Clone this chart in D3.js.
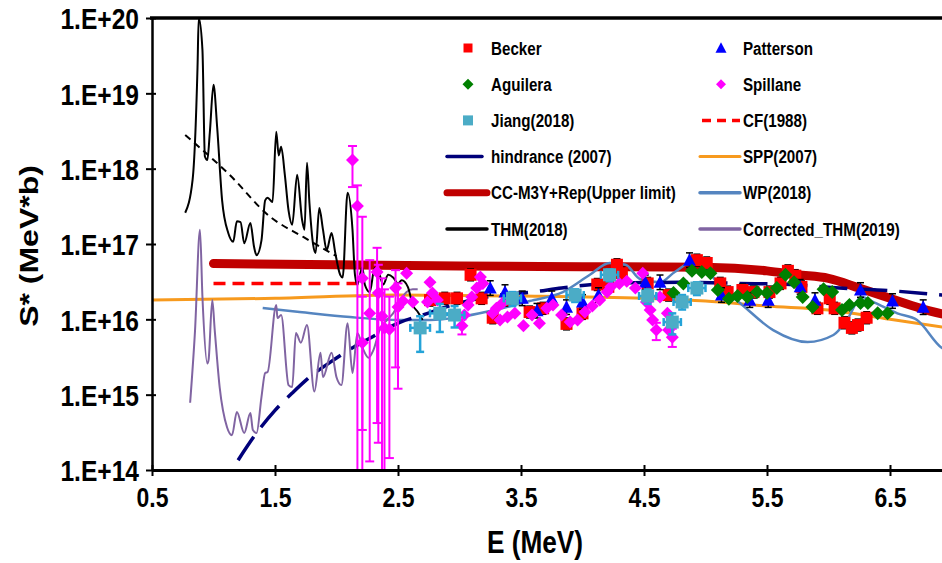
<!DOCTYPE html>
<html><head><meta charset="utf-8">
<script src="https://cdn.jsdelivr.net/npm/d3@7"></script>
<style>
body{margin:0;background:#fff}
svg{display:block}
text{font-family:"Liberation Sans",Arial,sans-serif;font-weight:bold;fill:#000}
</style>
</head><body>
<svg id="c" width="942" height="563"></svg>
<script>
// ---------- tick labels ----------
const yTickValues = [1e14,1e15,1e16,1e17,1e18,1e19,1e20];
const yTickLabels = ["1.E+14","1.E+15","1.E+16","1.E+17","1.E+18","1.E+19","1.E+20"];
const xTickValues = [0.5,1.5,2.5,3.5,4.5,5.5,6.5];
const xTickLabels = ["0.5","1.5","2.5","3.5","4.5","5.5","6.5"];
const xTitle = "E (MeV)";
const yTitle = "S* (MeV*b)";

// ---------- experimental data ----------
const beckerE = [2.76,2.88,2.98,3.09,3.18,3.27,3.39,3.57,3.68,3.87,4.00,4.12,4.21,4.28,4.32,4.53,4.70,4.93,5.01,5.12,5.18,5.30,5.39,5.52,5.61,5.67,5.73,5.78,5.91,6.01,6.05,6.13,6.19,6.24,6.31];
const beckerS = [1.8e16,1.9e16,1.9e16,3.9e16,1.9e16,1.05e16,1.8e16,1.25e16,1.4e16,8.7e15,1.2e16,2.9e16,2.7e16,5.3e16,4.1e16,3.0e16,2.1e16,6.1e16,5.6e16,3.0e16,2.3e16,2.45e16,2.3e16,2.3e16,3.0e16,4.4e16,3.8e16,2.7e16,1.4e16,1.9e16,1.4e16,9.0e15,7.7e15,8.4e15,1.05e16];

const pattersonE = [3.25,3.37,3.51,3.63,3.75,3.87,4.00,4.13,4.51,4.63,4.87,5.13,5.36,5.51,5.77,5.89,6.26,6.52,6.77];
const pattersonS = [2.6e16,2.3e16,1.9e16,1.3e16,1.9e16,1.45e16,1.7e16,2.1e16,3.1e16,3.1e16,6.1e16,2.1e16,1.8e16,1.8e16,2.7e16,1.8e16,2.45e16,1.75e16,1.45e16];

const aguileraE = [4.74,4.82,4.89,4.97,5.04,5.10,5.19,5.26,5.34,5.42,5.50,5.58,5.65,5.72,5.79,5.87,5.96,6.03,6.11,6.17,6.26,6.32,6.40,6.48];
const aguileraS = [2.24e16,3.0e16,4.4e16,4.25e16,4.1e16,2.45e16,1.87e16,2.04e16,1.98e16,2.3e16,2.24e16,2.6e16,3.9e16,3.1e16,1.98e16,1.46e16,2.5e16,2.3e16,1.33e16,1.55e16,1.65e16,1.65e16,1.2e16,1.2e16];

const spillaneE  = [2.13,2.17,2.21,2.21,2.27,2.33,2.34,2.37,2.39,2.43,2.48,2.50,2.54,2.57,2.62,2.74,2.76,2.78,2.82,3.02,3.04,3.07,3.10,3.14,3.17,3.19,3.27,3.30,3.33,3.35,3.39,3.45,3.52,3.59,3.65,3.71,3.76,3.83,3.90,3.96,4.02,4.08,4.14,4.20,4.23,4.30,4.36,4.43,4.49,4.52,4.55,4.57,4.60,4.63,4.69,4.70,4.73];
const spillaneS  = [1.3e18,3.2e17,3.5e16,4.9e15,1.2e16,4.25e16,2.24e16,1.1e16,7.7e15,7.4e15,2.6e16,1.46e16,1.75e16,4.1e16,1.7e16,1.7e16,3.1e16,2.24e16,1.8e16,8.2e15,1.14e16,1.55e16,1.98e16,2.6e16,3.65e16,3.0e16,1.2e16,1.4e16,9.8e15,1.65e16,1.07e16,1.2e16,8.2e15,1.14e16,8.9e15,1.4e16,1.55e16,1.14e16,9.2e15,9.8e15,1.25e16,1.5e16,1.8e16,2.3e16,2.7e16,3.0e16,3.2e16,2.6e16,4.1e16,1.7e16,1.33e16,9.8e15,7.2e15,1.98e16,1.2e16,7.2e15,5.8e15];
const spillaneLo = [5.7e17,1e13,1e13,3.4e14,1.3e14,4.2e14,2.3e14,1e13,1e13,1.44e14,2.3e15,1.2e15,null,null,null,null,null,null,null,6.3e15,null,null,null,null,null,null,null,null,null,null,null,null,null,null,null,null,null,null,null,null,null,null,null,null,null,null,null,null,null,null,null,null,5.3e15,null,null,null,4.3e15];
const spillaneHi = [2.0e18,6.0e17,2.3e17,2.0e16,6.1e16,8.9e16,5.3e16,3.5e16,2.5e16,2.0e16,4.5e16,3.0e16,null,null,null,null,null,null,null,1.0e16,null,null,null,null,null,null,null,null,null,null,null,null,null,null,null,null,null,null,null,null,null,null,null,null,null,null,null,null,null,null,null,null,9.0e15,null,null,null,7.5e15];

const jiangE  = [2.68,2.84,2.96,3.43,3.94,4.22,4.53,4.73,4.81,4.93];
const jiangS  = [7.7e15,1.2e16,1.14e16,1.9e16,2.1e16,3.9e16,2.04e16,9.2e15,1.7e16,2.6e16];
const jiangLo = [3.7e15,6.8e15,7.8e15,1.5e16,1.7e16,3.2e16,1.6e16,6.3e15,1.35e16,2.1e16];
const jiangHi = [1.1e16,1.6e16,1.5e16,2.3e16,2.5e16,4.6e16,2.5e16,1.2e16,2.1e16,3.1e16];
const jiangDE = [0.08,0.08,0.08,0.07,0.07,0.07,0.07,0.07,0.07,0.07];

const beckerErrFrac = 0.2;
const pattersonErrFrac = 0.25;

// ---------- theory curves ----------
const cfE = [1.0,2.2];
const cfS = [3.0e16,3.0e16];

const sppE = [0.5,1.5,2.5,3.5,4.5,5.0,5.5,6.0,6.5,7.0];
const sppS = [1.8e16,1.9e16,2.1e16,2.04e16,1.9e16,1.75e16,1.5e16,1.33e16,1.0e16,7.6e15];

const ccE = [1.0,2.0,3.0,4.0,5.0,5.5,5.75,6.0,6.25,6.5,6.75,7.0];
const ccS = [5.5e16,5.3e16,5.1e16,5.0e16,4.9e16,4.4e16,3.9e16,3.5e16,2.6e16,1.9e16,1.4e16,1.1e16];

const wpE = [1.40,1.70,2.11,2.52,2.76,3.00,3.25,3.57,3.84,4.06,4.22,4.35,4.47,4.63,4.75,4.90,5.00,5.12,5.28,5.55,5.83,6.04,6.15,6.27,6.38,6.56,6.72,6.92,7.0];
const wpS = [1.41e16,1.25e16,1.07e16,9.8e15,9.8e15,1.07e16,1.29e16,1.75e16,2.3e16,3.9e16,5.6e16,5.3e16,3.4e16,3.1e16,4.25e16,5.8e16,4.8e16,2.7e16,1.65e16,7.2e15,5.0e15,6.2e15,9.8e15,1.98e16,1.65e16,1.2e16,9.8e15,4.2e15,3.6e15];

const hindE = [1.20,1.35,1.50,1.64,1.78,1.95,2.11,2.27,2.52,2.70,3.00,3.33,3.59,3.83,4.22,4.79,5.28,5.69,6.09,6.50,6.92,7.0];
const hindS = [1.35e14,3.1e14,6.2e14,1.05e15,1.7e15,2.7e15,4.0e15,5.6e15,9.2e15,1.14e16,1.65e16,2.1e16,2.3e16,2.6e16,3.0e16,3.1e16,3.0e16,2.9e16,2.6e16,2.4e16,2.1e16,2.05e16];

const thmE = [0.77,0.83,0.87,0.88,0.91,0.93,0.95,0.97,1.00,1.03,1.07,1.12,1.16,1.19,1.22,1.25,1.30,1.33,1.35,1.39,1.42,1.44,1.48,1.51,1.53,1.55,1.58,1.61,1.64,1.68,1.72,1.74,1.76,1.78,1.81,1.83,1.86,1.89,1.92,1.96,1.99,2.03,2.05,2.09,2.13,2.15,2.17,2.21,2.23,2.27,2.31,2.35,2.38,2.42,2.46,2.50,2.53,2.58,2.62,2.66,2.70];
const thmS = [2.6e17,7.1e17,2.2e19,1.0e20,3.8e19,1.45e18,1.3e18,3.0e18,1.3e19,3.5e18,3.8e17,1.4e17,1.07e17,2.0e17,1.95e17,1.02e17,1.9e17,9.1e16,7.1e16,1.12e17,3.8e17,4.1e17,3.6e17,3.1e18,1.5e18,1.95e18,8.3e17,2.8e17,1.8e17,8.3e17,2.1e17,1.55e17,1.2e18,3.5e17,9.8e16,7.6e16,3.0e17,1.55e17,8.3e16,1.4e17,7.6e16,3.9e16,3.6e16,4.8e17,1.55e17,3.9e16,2.9e16,4.9e16,2.9e16,2.3e16,4.8e16,3.9e16,2.9e16,3.9e16,3.6e16,3.0e16,3.3e16,2.7e16,1.55e16,1.26e16,9.8e15];

const cthmE = [0.81,0.85,0.89,0.91,0.95,0.96,0.99,1.01,1.05,1.11,1.15,1.19,1.25,1.30,1.32,1.35,1.39,1.42,1.44,1.51,1.52,1.55,1.61,1.64,1.67,1.71,1.76,1.82,1.87,1.89,1.96,2.00,2.04,2.09,2.13,2.17,2.22,2.26,2.30,2.35,2.41,2.46,2.52,2.57,2.62,2.66];
const cthmS = [7.8e14,7.2e15,1.55e17,2.0e16,2.6e15,2.9e15,1.8e16,7.2e15,1.26e15,3.7e14,2.9e14,5.9e14,3.1e14,5.7e14,3.4e14,3.1e14,9.3e14,1.94e15,2.0e15,1.55e16,1.04e16,1.14e16,1.34e15,1.26e15,6.6e15,4.9e15,8.4e15,1.1e15,3.6e15,1.7e15,3.6e15,1.7e15,1.34e15,8.9e15,1.94e15,6.6e15,3.9e15,3.1e15,3.9e15,7.2e15,9.8e15,1.2e16,1.8e16,2.3e16,2.5e16,2.5e16];

const trendE = [0.77,1.13,1.46,1.73,2.00];
const trendS = [2.8e18,8.3e17,2.3e17,1.24e17,6.9e16];

// ---------- legend ----------
const legendLabels = ["Becker","Patterson","Aguilera","Spillane","Jiang(2018)","CF(1988)","hindrance (2007)","SPP(2007)","CC-M3Y+Rep(Upper limit)","WP(2018)","THM(2018)","Corrected_THM(2019)"];

// ---------- colours ----------
const C = {
  becker:"#ff0000", patterson:"#0000ff", aguilera:"#008000", spillane:"#ff00ff",
  jiang:"#4bacc6", jiangErr:"#24a3d8", cf:"#ff0000", hind:"#00007a", spp:"#f79a1e",
  cc:"#c00000", wp:"#5585c0", thm:"#000000", cthm:"#8064a2"
};

// ---------- scales ----------
const W = 942, H = 563;
const x = d3.scaleLinear().domain([0.5,7.5]).range([152,1013]);
const y = d3.scaleLog().domain([1e14,1e20]).range([470,18]);
const NX = 0.82; // horizontal text squeeze seen in the figure

const svg = d3.select("#c");
svg.append("rect").attr("width",W).attr("height",H).attr("fill","#fff");
svg.append("defs").append("clipPath").attr("id","plot")
  .append("rect").attr("x",152).attr("y",18).attr("width",W-152).attr("height",452);
const g = svg.append("g").attr("clip-path","url(#plot)");

function pathOf(E,S,curve){
  return d3.line().x((d,i)=>x(E[i])).y((d,i)=>y(S[i])).curve(curve||d3.curveLinear)(E);
}
function drawLine(E,S,color,width,dash,curve,cap){
  g.append("path").attr("d",pathOf(E,S,curve)).attr("fill","none")
    .attr("stroke",color).attr("stroke-width",width)
    .attr("stroke-dasharray",dash||null).attr("stroke-linecap",cap||"butt")
    .attr("stroke-linejoin","round");
}

// theory curves
drawLine(ccE,ccS,C.cc,9,null,d3.curveMonotoneX,"round");
drawLine(cfE,cfS,C.cf,3.5,"12,7",d3.curveLinear);
drawLine(sppE,sppS,C.spp,3,null,d3.curveMonotoneX);
drawLine(wpE,wpS,C.wp,2.5,null,d3.curveMonotoneX);
drawLine(hindE,hindS,C.hind,3.5,"28,12",d3.curveMonotoneX);
drawLine(trendE,trendS,"#000",2,"7,5",d3.curveMonotoneX);
drawLine(cthmE,cthmS,C.cthm,2,null,d3.curveMonotoneX);
drawLine(thmE,thmS,C.thm,2,null,d3.curveMonotoneX);

// marker shapes
const shapes = {
  square:(s)=>`M${-s},${-s}H${s}V${s}H${-s}Z`,
  diamond:(s)=>`M0,${-s}L${s},0L0,${s}L${-s},0Z`,
  triangle:(s)=>`M0,${-s*1.05}L${s},${s*0.85}L${-s},${s*0.85}Z`
};
function marker(sel,cx,cy,shape,s,fill){
  sel.append("path").attr("d",shapes[shape](s)).attr("transform",`translate(${cx},${cy})`).attr("fill",fill);
}
function errV(sel,cx,lo,hi,color,w,cap){
  const y1 = y(Math.max(lo,1e12)), y2 = y(hi);
  sel.append("line").attr("x1",cx).attr("x2",cx).attr("y1",y1).attr("y2",y2).attr("stroke",color).attr("stroke-width",w);
  [y1,y2].forEach(v=>sel.append("line").attr("x1",cx-cap).attr("x2",cx+cap).attr("y1",v).attr("y2",v).attr("stroke",color).attr("stroke-width",w));
}

// Becker
const gb = g.append("g");
beckerE.forEach((e,i)=>{
  errV(gb,x(e),beckerS[i]/(1+beckerErrFrac),beckerS[i]*(1+beckerErrFrac),"#000",1.5,3.5);
});
beckerE.forEach((e,i)=>marker(gb,x(e),y(beckerS[i]),"square",6,C.becker));
// Patterson
const gp = g.append("g");
pattersonE.forEach((e,i)=>{
  errV(gp,x(e),pattersonS[i]/(1+pattersonErrFrac),pattersonS[i]*(1+pattersonErrFrac),"#000",1.5,3.5);
});
pattersonE.forEach((e,i)=>marker(gp,x(e),y(pattersonS[i]),"triangle",6.5,C.patterson));
// Spillane
const gs = g.append("g");
spillaneE.forEach((e,i)=>{
  if(spillaneLo[i]!=null) errV(gs,x(e),spillaneLo[i],spillaneHi[i],C.spillane,2,4.5);
});
spillaneE.forEach((e,i)=>marker(gs,x(e),y(spillaneS[i]),"diamond",6.5,C.spillane));
// Aguilera
const ga = g.append("g");
aguileraE.forEach((e,i)=>marker(ga,x(e),y(aguileraS[i]),"diamond",7,C.aguilera));
// Jiang
const gj = g.append("g");
jiangE.forEach((e,i)=>{
  const cx=x(e), cy=y(jiangS[i]);
  errV(gj,cx,jiangLo[i],jiangHi[i],C.jiangErr,2.5,4);
  const xa=x(e-jiangDE[i]), xb=x(e+jiangDE[i]);
  gj.append("line").attr("x1",xa).attr("x2",xb).attr("y1",cy).attr("y2",cy).attr("stroke",C.jiangErr).attr("stroke-width",2.5);
  [xa,xb].forEach(v=>gj.append("line").attr("x1",v).attr("x2",v).attr("y1",cy-4).attr("y2",cy+4).attr("stroke",C.jiangErr).attr("stroke-width",2.5));
});
jiangE.forEach((e,i)=>marker(gj,x(e),y(jiangS[i]),"square",6.5,C.jiang));

// ---------- axes ----------
const yAxis = svg.append("g").attr("transform","translate(152,0)")
  .call(d3.axisLeft(y).tickValues(yTickValues).tickFormat((d,i)=>yTickLabels[i]).tickSizeOuter(0));
yAxis.select(".domain").attr("stroke","#000").attr("stroke-width",2.5);
yAxis.selectAll(".tick line").attr("x1",4).attr("x2",-6).attr("stroke","#000").attr("stroke-width",2);
yAxis.selectAll(".tick text").attr("font-size",30).attr("font-family",'"Liberation Sans",Arial,sans-serif')
  .attr("font-weight","bold").attr("fill","#000")
  .attr("x",-13/NX).attr("dy","0.36em").attr("transform",`scale(${NX},1)`);

const xAxis = svg.append("g").attr("transform","translate(0,470)")
  .call(d3.axisBottom(x).tickValues(xTickValues).tickFormat((d,i)=>xTickLabels[i]).tickSizeOuter(0));
xAxis.select(".domain").attr("stroke","#000").attr("stroke-width",3);
xAxis.selectAll(".tick line").attr("y1",-5).attr("y2",6).attr("stroke","#000").attr("stroke-width",2);
xAxis.selectAll(".tick text").attr("font-size",28).attr("font-family",'"Liberation Sans",Arial,sans-serif')
  .attr("font-weight","bold").attr("fill","#000")
  .attr("y",37).attr("dy",0).attr("transform",`scale(${NX},1)`);

// top frame
svg.append("line").attr("x1",150).attr("x2",W).attr("y1",18).attr("y2",18).attr("stroke","#000").attr("stroke-width",3.5);

// titles
svg.append("text").attr("transform",`translate(${535},553) scale(${NX},1)`).attr("text-anchor","middle")
  .attr("font-size",32).text(xTitle);
svg.append("text").attr("transform",`translate(38,246) rotate(-90) scale(1,${NX})`).attr("text-anchor","middle")
  .attr("font-size",32).text(yTitle);

// ---------- legend ----------
const lg = svg.append("g");
const rowY = i => 48 + Math.floor(i/2)*36.2;
legendLabels.forEach((lab,i)=>{
  const col = i%2, cy = rowY(i);
  const mx = col? 721 : 468, tx = col? 743 : 491, l1 = col? 700 : 447, l2 = col? 740 : 487;
  const drawL=(color,w,dash,end)=>lg.append("line").attr("x1",l1).attr("x2",end||l2).attr("y1",cy).attr("y2",cy)
      .attr("stroke",color).attr("stroke-width",w).attr("stroke-dasharray",dash||null).attr("stroke-linecap","round");
  switch(lab){
    case "Becker": marker(lg,mx,cy,"square",4.5,C.becker); break;
    case "Patterson": marker(lg,mx,cy,"triangle",5.5,C.patterson); break;
    case "Aguilera": marker(lg,mx,cy,"diamond",5.5,C.aguilera); break;
    case "Spillane": marker(lg,mx,cy,"diamond",5,C.spillane); break;
    case "Jiang(2018)": marker(lg,mx,cy,"square",5,C.jiang); break;
    case "CF(1988)": lg.append("line").attr("x1",l1+2).attr("x2",l2).attr("y1",cy).attr("y2",cy)
      .attr("stroke",C.cf).attr("stroke-width",3.5).attr("stroke-dasharray","9,6"); break;
    case "hindrance (2007)": drawL(C.hind,3.5,null,482); break;
    case "SPP(2007)": drawL(C.spp,3); break;
    case "CC-M3Y+Rep(Upper limit)": drawL(C.cc,7); break;
    case "WP(2018)": drawL(C.wp,3.5); break;
    case "THM(2018)": drawL(C.thm,3.5); break;
    case "Corrected_THM(2019)": drawL(C.cthm,3.5); break;
  }
  lg.append("text").attr("transform",`translate(${tx},${cy+6.6}) scale(${NX},1)`).attr("font-size",18.5).text(lab);
});
</script>
</body></html>
